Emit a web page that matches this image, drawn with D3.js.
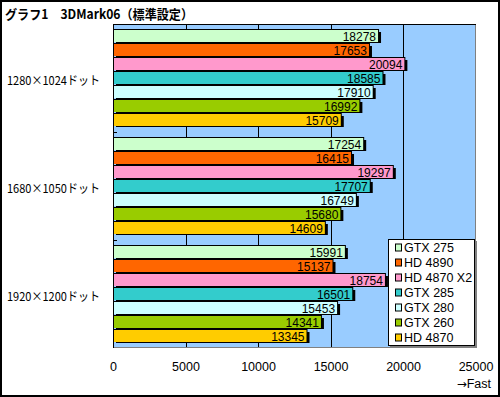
<!DOCTYPE html>
<html><head><meta charset="utf-8">
<script src="https://cdn.jsdelivr.net/npm/d3@7"></script>
<style>html,body{margin:0;padding:0;background:#fff}svg{display:block}</style>
</head><body>
<script>
// ---- data ----
const title = "グラフ1\u30003DMark06（標準設定）";
const categories = ["1280×1024ドット", "1680×1050ドット", "1920×1200ドット"];
const series = ["GTX 275", "HD 4890", "HD 4870 X2", "GTX 285", "GTX 280", "GTX 260", "HD 4870"];
const seriesColors = ["#ccffcc", "#ff6600", "#ff99cc", "#33cccc", "#ccffff", "#99cc00", "#ffcc00"];
const gtx275 = [18278, 17254, 15991];
const hd4890 = [17653, 16415, 15137];
const hd4870x2 = [20094, 19297, 18754];
const gtx285 = [18585, 17707, 16501];
const gtx280 = [17910, 16749, 15453];
const gtx260 = [16992, 15680, 14341];
const hd4870 = [15709, 14609, 13345];
const xTicks = [0, 5000, 10000, 15000, 20000, 25000];
const unitArrow = "→";
const unitLabel = "Fast";

const seriesValues = [gtx275, hd4890, hd4870x2, gtx285, gtx280, gtx260, hd4870];

// ---- layout ----
const W = 500, H = 397;
const FONT = "'Noto Sans CJK JP','Noto Sans',sans-serif";
const LATIN = "'Liberation Sans','DejaVu Sans',sans-serif";
const plot = {left: 113, top: 24, right: 476, bottom: 348};

const svg = d3.select("body").append("svg").attr("width", W).attr("height", H)
  .style("font-family", FONT);

svg.append("rect").attr("x", 1).attr("y", 1).attr("width", W - 2).attr("height", H - 2)
  .attr("fill", "#fff").attr("stroke", "#000").attr("stroke-width", 2);

const x = d3.scaleLinear().domain([0, 25000]).range([plot.left, 475.5]);
const y0 = d3.scaleBand().domain(categories).range([plot.top, plot.bottom]).padding(0);
const y1 = d3.scaleBand().domain(series).range([5, y0.bandwidth() - 5]).padding(0);

// plot background
svg.append("rect").attr("x", plot.left).attr("y", plot.top)
  .attr("width", plot.right - plot.left).attr("height", plot.bottom - plot.top)
  .attr("fill", "#99ccff");

// gridlines
svg.append("g").selectAll("line").data(xTicks.filter(t => t > 0 && t < 25000)).join("line")
  .attr("x1", d => Math.round(x(d)) + 0.5).attr("x2", d => Math.round(x(d)) + 0.5)
  .attr("y1", plot.top).attr("y2", plot.bottom)
  .attr("stroke", "#000").attr("stroke-width", 1);

// bars
const groups = svg.append("g").selectAll("g").data(categories).join("g")
  .attr("transform", d => `translate(0,${y0(d)})`);

groups.each(function (cat, ci) {
  const g = d3.select(this);
  const rows = series.map((s, si) => ({s, si, v: seriesValues[si][ci]}));
  const x0 = x(0);
  g.selectAll("rect.back").data(rows).join("rect").attr("class", "back")
    .attr("x", x0).attr("y", d => y1(d.s))
    .attr("width", d => x(d.v) - x0 + 1).attr("height", 13).attr("fill", "#000");
  g.selectAll("rect.sh").data(rows).join("rect").attr("class", "sh")
    .attr("x", x0 + 3).attr("y", d => y1(d.s) + 3)
    .attr("width", d => x(d.v) - x0).attr("height", 11).attr("fill", "#000");
  g.selectAll("rect.bar").data(rows).join("rect").attr("class", "bar")
    .attr("x", x0).attr("y", d => y1(d.s) + 1)
    .attr("width", d => x(d.v) - x0).attr("height", 12)
    .attr("fill", d => seriesColors[d.si]);
  g.selectAll("text").data(rows).join("text")
    .attr("x", d => x(d.v) - 2).attr("y", d => y1(d.s) + 7.5)
    .attr("text-anchor", "end").attr("dominant-baseline", "central")
    .attr("font-family", LATIN).attr("font-size", 12).attr("fill", "#000").text(d => d.v);
});

// frame
svg.append("line").attr("x1", plot.left).attr("x2", plot.right).attr("y1", plot.top + 0.5).attr("y2", plot.top + 0.5)
  .attr("stroke", "#000");
svg.append("line").attr("x1", plot.right - 0.5).attr("x2", plot.right - 0.5).attr("y1", plot.top + 1).attr("y2", plot.bottom)
  .attr("stroke", "#808080");
svg.append("line").attr("x1", plot.left).attr("x2", plot.right).attr("y1", plot.bottom - 0.5).attr("y2", plot.bottom - 0.5)
  .attr("stroke", "#808080");
svg.append("line").attr("x1", plot.left + 0.5).attr("x2", plot.left + 0.5).attr("y1", plot.top).attr("y2", plot.bottom)
  .attr("stroke", "#000");
svg.append("g").selectAll("line").data(categories.slice(1)).join("line")
  .attr("x1", plot.left).attr("x2", plot.left + 4)
  .attr("y1", d => y0(d) + 0.5).attr("y2", d => y0(d) + 0.5).attr("stroke", "#000");

// x axis labels
const xAxis = d3.axisBottom(x).tickValues(xTicks).tickSize(0).tickPadding(0).tickFormat(d3.format("d"));
const ax = svg.append("g").attr("transform", `translate(0,${plot.bottom})`).call(xAxis);
ax.select(".domain").remove();
ax.selectAll("text").attr("y", 23).attr("dy", null).attr("font-size", 12.5)
  .attr("font-family", LATIN).attr("fill", "#000");

const unit = svg.append("text").attr("x", 491).attr("y", 388).attr("text-anchor", "end")
  .attr("font-family", LATIN).attr("font-size", 12.5);
unit.append("tspan").attr("font-family", "'DejaVu Sans',sans-serif").attr("font-size", 12).text(unitArrow);
unit.append("tspan").text(unitLabel);

// category labels
svg.append("g").selectAll("text").data(categories).join("text")
  .attr("x", 7).attr("y", d => y0(d) + y0.bandwidth() / 2 + 1)
  .attr("dominant-baseline", "central").attr("font-size", 12)
  .attr("textLength", 93).attr("lengthAdjust", "spacingAndGlyphs").text(d => d);

// title
svg.append("text").attr("x", 5).attr("y", 19).attr("font-size", 13).attr("font-weight", "bold")
  .attr("textLength", 188).attr("lengthAdjust", "spacingAndGlyphs").text(title);

// legend
const lg = svg.append("g");
lg.append("rect").attr("x", 390).attr("y", 241).attr("width", 87).attr("height", 107).attr("fill", "#808080");
lg.append("rect").attr("x", 388.5).attr("y", 239.5).attr("width", 86).attr("height", 106)
  .attr("fill", "#fff").attr("stroke", "#000");
const items = lg.selectAll("g.it").data(series).join("g").attr("class", "it")
  .attr("transform", (d, i) => `translate(0,${247.5 + i * 15})`);
items.append("rect").attr("x", 395.5).attr("y", -3.5).attr("width", 6).attr("height", 7)
  .attr("fill", (d, i) => seriesColors[i]).attr("stroke", "#000");
items.append("text").attr("x", 404).attr("y", 0).attr("dominant-baseline", "central")
  .attr("font-family", LATIN).attr("font-size", 12.5).text(d => d);
</script>
</body></html>
